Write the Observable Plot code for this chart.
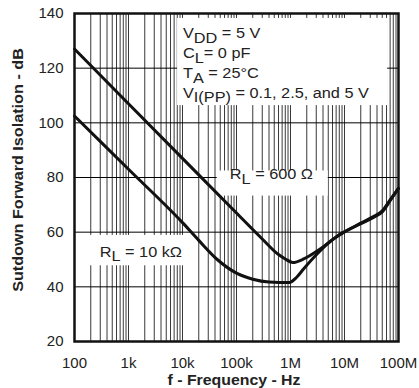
<!DOCTYPE html>
<html>
<head>
<meta charset="utf-8">
<script src="https://cdn.jsdelivr.net/npm/d3@7"></script>
<script src="https://cdn.jsdelivr.net/npm/@observablehq/plot@0.6"></script>
<style>
  html, body { margin: 0; padding: 0; background: #fff; }
  svg { font-family: "Liberation Sans", Arial, sans-serif; }
</style>
</head>
<body>
<div id="chart"></div>
<script>
// ---- data ----
const freq600 = [100, 1e3, 1e4, 1e5, 3e5, 6e5, 8e5, 1.1e6, 1.8e6, 3.6e6, 8.5e6, 2e7, 3.5e7, 5e7, 7.1e7, 1e8];
const iso600  = [127, 107, 87, 67, 57.5, 51.8, 50.2, 48.9, 50.3, 53.9, 59.4, 63.1, 65.5, 67.4, 71.7, 76];
const freq10k = [100, 1e3, 1e4, 2e4, 4.4e4, 1e5, 2e5, 4e5, 9.5e5, 1.3e6, 1.76e6, 3.1e6, 5e6, 8.5e6, 2e7, 3.5e7, 5e7, 7.1e7, 1e8];
const iso10k  = [102.5, 83, 63.5, 57, 50, 45, 42.8, 41.8, 41.6, 43.5, 46.6, 52, 56, 59.2, 63.3, 65.8, 67.8, 72, 76];
const xTickValues = [100, 1e3, 1e4, 1e5, 1e6, 1e7, 1e8];
const xTickLabels = ["100", "1k", "10k", "100k", "1M", "10M", "100M"];
const yTickValues = [20, 40, 60, 80, 100, 120, 140];
const yTickLabels = ["20", "40", "60", "80", "100", "120", "140"];
const xTitle = "f - Frequency - Hz";
const yTitle = "Sutdown Forward Isolation - dB";
const noteLines = [
  ["V", "DD", " = 5 V"],
  ["C", "L", "= 0 pF"],
  ["T", "A", " = 25°C"],
  ["V", "I(PP)", " = 0.1, 2.5, and 5 V"]
];
const label600 = ["R", "L", " = 600 Ω"];
const label10k = ["R", "L", " = 10 kΩ"];

// ---- build tables ----
const data600 = freq600.map((f, i) => ({f, v: iso600[i]}));
const data10k = freq10k.map((f, i) => ({f, v: iso10k[i]}));
const gridX = d3.scaleLog().domain([100, 1e8]).ticks();

// white boxes behind annotations (data coords)
const boxX1 = [8.1e3, 4.4e4, 100];
const boxX2 = [6.3e7, 5.0e6, 1.4e4];
const boxY1 = [106.3, 73.2, 47.7];
const boxY2 = [138.2, 82.4, 58.8];
const boxes = boxX1.map((x1, i) => ({x1, x2: boxX2[i], y1: boxY1[i], y2: boxY2[i]}));

const chart = Plot.plot({
  width: 419,
  height: 388,
  marginLeft: 74,
  marginRight: 21,
  marginTop: 13,
  marginBottom: 47,
  style: {fontFamily: "Liberation Sans, Arial, sans-serif", fontSize: "15px", background: "#fff"},
  x: {type: "log", domain: [100, 1e8], axis: null},
  y: {domain: [20, 140], axis: null},
  marks: [
    Plot.ruleX(gridX, {stroke: "#222", strokeWidth: 0.9}),
    Plot.ruleY(yTickValues, {stroke: "#000", strokeWidth: 1}),
    Plot.rect(boxes, {x1: "x1", x2: "x2", y1: "y1", y2: "y2", fill: "#fff", stroke: "none"}),
    Plot.line(data10k, {x: "f", y: "v", stroke: "#111", strokeWidth: 3, curve: "monotone-x"}),
    Plot.line(data600, {x: "f", y: "v", stroke: "#111", strokeWidth: 3, curve: "monotone-x"}),
    Plot.frame({stroke: "#111", strokeWidth: 2.5}),
    Plot.text(xTickValues, {x: d => d, y: 20, text: (d, i) => xTickLabels[i], dy: 22, fontSize: 15, fill: "#222"}),
    Plot.text(yTickValues, {x: 100, y: d => d, text: (d, i) => yTickLabels[i], dx: -11, textAnchor: "end", fontSize: 15, fill: "#222"})
  ]
});
document.getElementById("chart").appendChild(chart);

// ---- annotations with subscripts ----
const svg = d3.select(chart);
const xs = chart.scale("x"), ys = chart.scale("y");
const stretch = 1.085;
function addLabel(px, py, parts, size) {
  const t = svg.append("text")
    .attr("x", 0).attr("y", 0)
    .attr("transform", `translate(${px},${py}) scale(${stretch},1)`)
    .attr("text-anchor", "start")
    .attr("font-size", size).attr("fill", "#222")
    .attr("font-family", "Liberation Sans, Arial, sans-serif");
  t.append("tspan").text(parts[0]);
  t.append("tspan").attr("dy", 4.5).text(parts[1]);
  t.append("tspan").attr("dy", -4.5).text(parts[2]);
}
const noteY = [130.8, 123.5, 116.2, 109];
noteLines.forEach((p, i) => addLabel(xs.apply(1e4) + 1, ys.apply(noteY[i]), p, 15));
addLabel(xs.apply(7.7e4), ys.apply(79.2), label600, 15);
addLabel(xs.apply(300), ys.apply(50.8), label10k, 15);

// axis titles (stretched to the reference length)
function addTitle(text, cx, cy, rotate, targetLen) {
  const t = svg.append("text").attr("x", 0).attr("y", 0)
    .attr("text-anchor", "middle").attr("font-weight", "bold")
    .attr("font-size", 14.5).attr("fill", "#222")
    .attr("font-family", "Liberation Sans, Arial, sans-serif")
    .text(text);
  const len = t.node().getComputedTextLength() || targetLen;
  const s = targetLen / len;
  t.attr("transform", `translate(${cx},${cy}) rotate(${rotate}) scale(${s},1)`);
}
const plotCx = (xs.apply(100) + xs.apply(1e8)) / 2;
addTitle(xTitle, plotCx - 2, ys.apply(20) + 44, 0, 133);
addTitle(yTitle, 23, ys.apply(20) - 171, -90, 244);
</script>
</body>
</html>
